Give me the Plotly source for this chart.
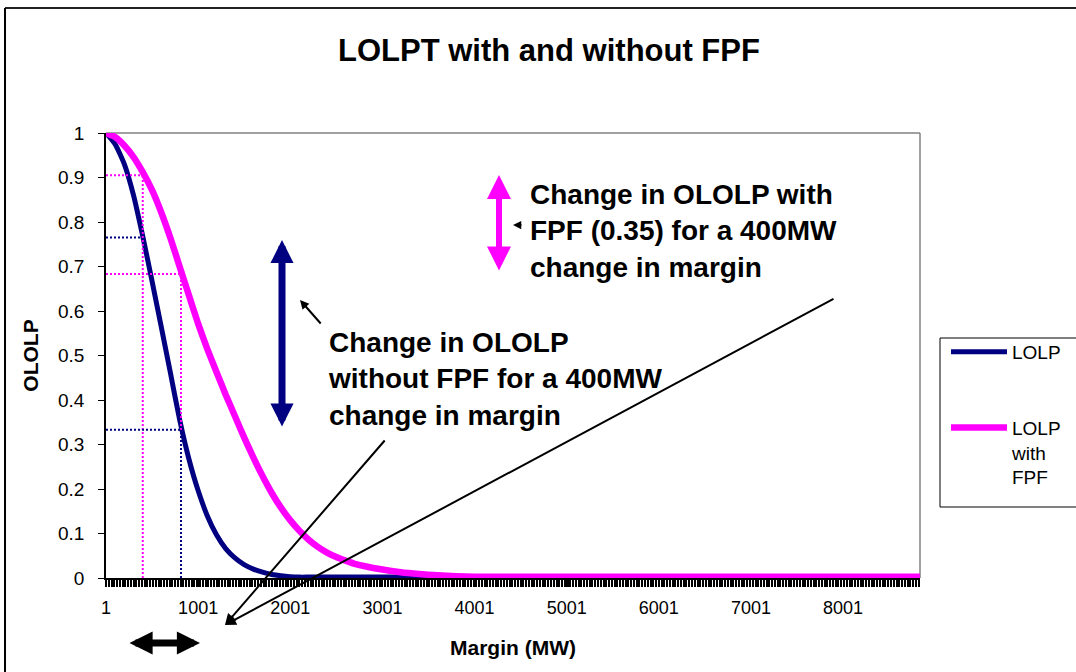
import plotly.graph_objects as go

# ---------------- data ----------------
margin_mw = [1, 100, 200, 300, 400, 500, 600, 700, 800, 900, 1000,
             1100, 1200, 1300, 1400, 1500, 1600, 1700, 1800, 1900, 2000,
             2100, 2200, 2300, 2400, 2500, 2600, 2700, 2800, 3000, 3200,
             3400, 3600, 3800, 4000, 5000, 6000, 7000, 8000, 8850]

lolp = [1.0, 0.975, 0.930, 0.860, 0.768, 0.668, 0.565, 0.461, 0.356, 0.268, 0.197,
        0.140, 0.097, 0.066, 0.045, 0.030, 0.020, 0.013, 0.008, 0.005, 0.003,
        0.002, 0.002, 0.002, 0.002, 0.002, 0.002, 0.002, 0.002, 0.002, 0.002,
        0.002, 0.002, 0.002, 0.002, 0.002, 0.002, 0.002, 0.002, 0.002]

lolp_fpf = [1.0, 0.991, 0.972, 0.946, 0.912, 0.872, 0.822, 0.764, 0.700, 0.636, 0.572,
            0.515, 0.463, 0.412, 0.364, 0.316, 0.271, 0.229, 0.191, 0.158, 0.130,
            0.106, 0.086, 0.070, 0.057, 0.047, 0.039, 0.032, 0.027, 0.019, 0.013,
            0.009, 0.006, 0.004, 0.003, 0.003, 0.003, 0.003, 0.003, 0.003]

series_names = ["LOLP", "LOLP<br>with<br>FPF"]

x_tick_vals = [1, 1001, 2001, 3001, 4001, 5001, 6001, 7001, 8001]
x_tick_text = ["1", "1001", "2001", "3001", "4001", "5001", "6001", "7001", "8001"]
y_tick_vals = [0, 0.1, 0.2, 0.3, 0.4, 0.5, 0.6, 0.7, 0.8, 0.9, 1]
y_tick_text = ["0", "0.1", "0.2", "0.3", "0.4", "0.5", "0.6", "0.7", "0.8", "0.9", "1"]

ref_margin = [400, 815]          # margins where the dotted guides are drawn
ref_lolp = [0.765, 0.333]        # LOLP at those margins
ref_fpf = [0.905, 0.683]         # LOLP with FPF at those margins

# ---------------- layout helpers ----------------
W, H = 1076, 672
ML, MR, MT, MB = 106, 156, 133, 94
PW, PH = W - ML - MR, H - MT - MB

def px(x):
    return (x - ML) / PW

def py(y):
    return (H - MB - y) / PH

NAVY = "#000080"
MAGENTA = "#FF00FF"
FONT = "Liberation Sans, Arial, sans-serif"

fig = go.Figure()
fig.add_trace(go.Scatter(x=margin_mw, y=lolp, mode="lines", name=series_names[0],
                         legendgroup="a",
                         line=dict(color=NAVY, width=5, shape="spline", smoothing=0.5)))
fig.add_trace(go.Scatter(x=margin_mw, y=lolp_fpf, mode="lines", name=series_names[1],
                         legendgroup="b",
                         line=dict(color=MAGENTA, width=6.5, shape="spline", smoothing=0.5)))

shapes = []
# plot-area border (grey top/right)
shapes.append(dict(type="line", xref="paper", yref="paper", x0=0, x1=1, y0=1, y1=1,
                   line=dict(color="#808080", width=1.5), layer="below"))
shapes.append(dict(type="line", xref="paper", yref="paper", x0=1, x1=1, y0=0, y1=1,
                   line=dict(color="#808080", width=1.5), layer="below"))
# outer chart frame
shapes.append(dict(type="line", xref="paper", yref="paper", x0=px(5), x1=px(1090),
                   y0=py(8), y1=py(8), line=dict(color="#202020", width=2)))
shapes.append(dict(type="line", xref="paper", yref="paper", x0=px(5), x1=px(5),
                   y0=py(8), y1=py(700), line=dict(color="black", width=2)))
# legend frame (runs off the right edge like the original)
shapes.append(dict(type="rect", xref="paper", yref="paper", x0=px(940), x1=px(1100),
                   y0=py(338), y1=py(507), line=dict(color="black", width=1),
                   fillcolor="white", layer="below"))

dot = "2px,2px"
x_start = x_tick_vals[0]
# guides at 400 MW
shapes.append(dict(type="line", xref="x", yref="y", x0=x_start, x1=ref_margin[0],
                   y0=ref_lolp[0], y1=ref_lolp[0], line=dict(color=NAVY, width=2, dash=dot)))
shapes.append(dict(type="line", xref="x", yref="y", x0=x_start, x1=ref_margin[0],
                   y0=ref_fpf[0], y1=ref_fpf[0], line=dict(color=MAGENTA, width=2, dash=dot)))
shapes.append(dict(type="line", xref="x", yref="y", x0=ref_margin[0], x1=ref_margin[0],
                   y0=0, y1=ref_fpf[0], line=dict(color=MAGENTA, width=2, dash=dot)))
# guides at 800 MW
shapes.append(dict(type="line", xref="x", yref="y", x0=x_start, x1=ref_margin[1],
                   y0=ref_fpf[1], y1=ref_fpf[1], line=dict(color=MAGENTA, width=2, dash=dot)))
shapes.append(dict(type="line", xref="x", yref="y", x0=ref_margin[1], x1=ref_margin[1],
                   y0=0, y1=ref_fpf[1], line=dict(color=MAGENTA, width=2, dash=dot)))
shapes.append(dict(type="line", xref="x", yref="y", x0=x_start, x1=ref_margin[1],
                   y0=ref_lolp[1], y1=ref_lolp[1], line=dict(color=NAVY, width=2, dash=dot)))
shapes.append(dict(type="line", xref="x", yref="y", x0=ref_margin[1], x1=ref_margin[1],
                   y0=0, y1=ref_lolp[1], line=dict(color=NAVY, width=2, dash=dot)))

annotations = []

def arrow(hx, hy, tx, ty, color, width, size, both=False, head=2):
    a = dict(xref="paper", yref="paper", x=px(hx), y=py(hy), ax=tx - hx, ay=ty - hy,
             axref="pixel", ayref="pixel", text="", showarrow=True,
             arrowcolor=color, arrowwidth=width, arrowhead=head, arrowsize=size,
             standoff=0, startstandoff=0)
    if both:
        a.update(arrowside="end+start", startarrowhead=head, startarrowsize=size)
    return a

annotations.append(arrow(282, 240, 282, 428, NAVY, 7, 0.66, both=True))
annotations.append(arrow(499, 175, 499, 272, MAGENTA, 6, 0.8, both=True))
annotations.append(arrow(300, 300, 322, 325, "black", 2, 0.9))
annotations.append(arrow(513, 225, 523, 225, "black", 1.5, 1.1))
annotations.append(arrow(225, 625, 386, 439, "black", 2, 1.1))
annotations.append(arrow(225, 625, 835, 298, "black", 2, 1.1))
annotations.append(arrow(200, 643, 128, 643, "black", 7, 0.66, both=True))

text_font = dict(family=FONT, size=28, color="black", weight="bold")
annotations.append(dict(xref="paper", yref="paper", x=px(528), y=py(231),
                        xanchor="left", yanchor="middle", align="left", showarrow=False,
                        text="Change in OLOLP with<br>FPF (0.35) for a 400MW<br>change in margin",
                        font=text_font))
annotations.append(dict(xref="paper", yref="paper", x=px(326), y=py(379),
                        xanchor="left", yanchor="middle", align="left", showarrow=False,
                        text="Change in OLOLP<br>without FPF for a 400MW<br>change in margin",
                        font=text_font))

fig.update_layout(
    width=W, height=H,
    margin=dict(l=ML, r=MR, t=MT, b=MB, autoexpand=False),
    paper_bgcolor="white", plot_bgcolor="white",
    font=dict(family=FONT, color="black"),
    title=dict(text="LOLPT with and without FPF", x=549 / W, xanchor="center",
               y=1 - 50 / H, yanchor="middle", xref="container", yref="container",
               font=dict(family=FONT, size=31, color="black", weight="bold")),
    xaxis=dict(range=[1, 8836], showgrid=False, zeroline=False,
               showline=True, linecolor="black", linewidth=1.5,
               tickmode="array", tickvals=x_tick_vals, ticktext=x_tick_text,
               ticks="outside", ticklen=7, tickcolor="black", tickwidth=1,
               ticklabelstandoff=6,
               minor=dict(tickmode="linear", tick0=1, dtick=30, ticks="outside",
                          ticklen=7, tickcolor="black", tickwidth=1.5),
               tickfont=dict(size=18, family=FONT, color="black"),
               title=dict(text="Margin (MW)", standoff=23,
                          font=dict(size=21, family=FONT, color="black", weight="bold"))),
    yaxis=dict(range=[0, 1], showgrid=False, zeroline=False,
               showline=True, linecolor="black", linewidth=1.5,
               tickmode="array", tickvals=y_tick_vals, ticktext=y_tick_text,
               ticks="outside", ticklen=6, tickcolor="black", tickwidth=1,
               ticklabelstandoff=10,
               tickfont=dict(size=19, family=FONT, color="black"),
               title=dict(text="OLOLP", standoff=14,
                          font=dict(size=21, family=FONT, color="black", weight="bold"))),
    legend=dict(x=px(946), y=py(333), xanchor="left", yanchor="top",
                borderwidth=0, bgcolor="rgba(0,0,0,0)",
                font=dict(size=19, family=FONT, color="black"),
                tracegroupgap=48, itemwidth=56, valign="top"),
    shapes=shapes,
    annotations=annotations,
)

fig.write_html("out.html", config={"displayModeBar": False},
               post_script="document.body.style.margin='0';")
